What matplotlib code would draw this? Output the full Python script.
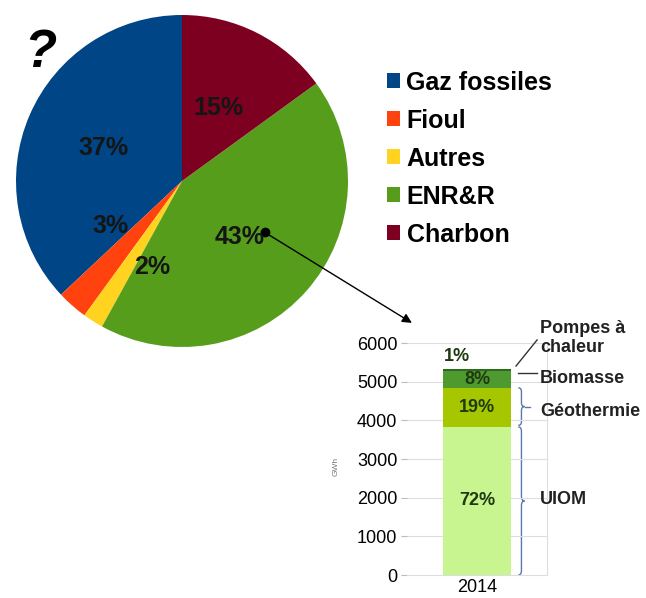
import numpy as np
import matplotlib.pyplot as plt
from matplotlib.patches import Patch, ConnectionPatch, PathPatch
from matplotlib.path import Path

# pie data (legend order)
sources = ["Gaz fossiles", "Fioul", "Autres", "ENR&R", "Charbon"]
shares = [37, 3, 2, 43, 15]
pie_colors = ["#004586", "#ff420e", "#ffd320", "#579d1c", "#7e0021"]
# label offsets inside the pie (radius units)
label_xy = [(-0.47, 0.20), (-0.43, -0.27), (-0.18, -0.52), (0.35, -0.34), (0.22, 0.44)]

# ENR&R breakdown, 2014 (GWh)
enr_parts = ["UIOM", "Géothermie", "Biomasse", "Pompes à\nchaleur"]
enr_gwh = [3830, 1011, 426, 53]
enr_pct = ["72%", "19%", "8%", "1%"]
enr_colors = ["#c8f590", "#a6c700", "#4e9a2e", "#2c6b1e"]
year = "2014"

W, H = 646, 598
fig = plt.figure(figsize=(W / 100, H / 100), dpi=100)
plt.rcParams['font.family'] = ['Liberation Sans', 'DejaVu Sans']

# ---- pie ----
cx, cy, r = 182, 181, 166
ax = fig.add_axes([(cx - r) / W, (H - cy - r) / H, 2 * r / W, 2 * r / H])
ax.pie(shares, colors=pie_colors, startangle=90, counterclock=True,
       wedgeprops=dict(linewidth=0))
ax.set_xlim(-1, 1)
ax.set_ylim(-1, 1)
ax.set_aspect('auto')
ax.axis('off')
for s, (x, y) in zip(shares, label_xy):
    ax.text(x, y, f"{s}%", ha='center', va='center', fontsize=18,
            fontweight='bold', color='#151515')
ax.plot(0.5, -0.31, 'o', color='black', markersize=6)

fig.text(40 / W, 1 - 53 / H, "?", fontsize=38, fontweight='bold',
         fontstyle='italic', ha='center', va='center')

handles = [Patch(facecolor=c, edgecolor='none') for c in pie_colors]
fig.legend(handles, sources, loc='upper left', bbox_to_anchor=(374 / W, 1 - 58 / H),
           frameon=False, prop=dict(size=18, weight='bold'),
           handlelength=0.55, handleheight=0.55, handletextpad=0.25,
           labelspacing=0.56, borderpad=0)

# ---- stacked bar ----
bx0, bx1, by0, by1 = 407, 547, 575, 343
bx = fig.add_axes([bx0 / W, (H - by0) / H, (bx1 - bx0) / W, (by0 - by1) / H])
bottom = 0
for v, c, p in zip(enr_gwh, enr_colors, enr_pct):
    bx.bar(0, v, bottom=bottom, width=0.49, color=c, zorder=2)
    bottom += v
mids = np.cumsum(enr_gwh) - np.array(enr_gwh) / 2
pct_style = dict(ha='center', va='center', fontsize=13, fontweight='bold',
                 color='#1e3a10', zorder=3)
bx.text(0, mids[0], enr_pct[0], **pct_style)
bx.text(0, mids[1], enr_pct[1], **pct_style)
bx.text(0, mids[2], enr_pct[2], **pct_style)
bx.text(-0.14, bottom + 320, enr_pct[3], **pct_style)

bx.set_xlim(-0.5, 0.5)
bx.set_ylim(0, 6000)
bx.set_yticks(range(0, 6001, 1000))
bx.set_xticks([0])
bx.set_xticklabels([year])
bx.tick_params(axis='y', length=4, color='#bbbbbb', labelsize=13, pad=3)
bx.tick_params(axis='x', length=0, labelsize=13, pad=3)
bx.grid(axis='y', color='#dddddd', linewidth=0.8, zorder=0)
for side in ['top', 'left']:
    bx.spines[side].set_visible(False)
for side in ['right', 'bottom']:
    bx.spines[side].set_color('#dddddd')
bx.set_ylabel("GWh", fontsize=6, color='#777777')
bx.yaxis.set_label_coords(-0.48, 0.47)


def brace(a, x, y0, y1, w, d):
    ym = (y0 + y1) / 2
    verts = [(x, y0), (x + w / 2, y0), (x + w / 2, y0 + d),
             (x + w / 2, ym - d), (x + w / 2, ym), (x + w, ym),
             (x + w / 2, ym), (x + w / 2, ym + d),
             (x + w / 2, y1 - d), (x + w / 2, y1), (x, y1)]
    codes = [Path.MOVETO, Path.CURVE3, Path.CURVE3,
             Path.LINETO, Path.CURVE3, Path.CURVE3,
             Path.CURVE3, Path.CURVE3,
             Path.LINETO, Path.CURVE3, Path.CURVE3]
    a.add_patch(PathPatch(Path(verts, codes), fill=False, edgecolor='#5a78b0',
                          linewidth=1, clip_on=False))


brace(bx, 0.295, 0, enr_gwh[0], 0.045, 120)
brace(bx, 0.295, enr_gwh[0] + 40, enr_gwh[0] + enr_gwh[1], 0.045, 100)
bx.plot([0.345, 0.38], [enr_gwh[0] + enr_gwh[1] / 2] * 2, color='#5a78b0',
        linewidth=1, clip_on=False)

lab = dict(fontsize=13, fontweight='bold', color='#222222', va='center',
           ha='left', clip_on=False)
bx.text(0.45, 1960, enr_parts[0], **lab)
bx.text(0.45, 4230, enr_parts[1], **lab)
bx.text(0.45, 5080, enr_parts[2], **lab)
bx.text(0.45, 6130, enr_parts[3], linespacing=1.2, **lab)
bx.plot([0.29, 0.43], [5224, 5224], color='#333333', linewidth=1, clip_on=False)
bx.plot([0.279, 0.429], [5405, 6078], color='#333333', linewidth=1, clip_on=False)

# arrow from ENR&R slice to the bar
con = ConnectionPatch(xyA=(0.5, -0.31), coordsA=ax.transData,
                      xyB=(-0.465, 6520), coordsB=bx.transData,
                      arrowstyle='-|>', color='black', linewidth=1,
                      mutation_scale=14)
fig.add_artist(con)

fig.savefig("out.png", dpi=100)
